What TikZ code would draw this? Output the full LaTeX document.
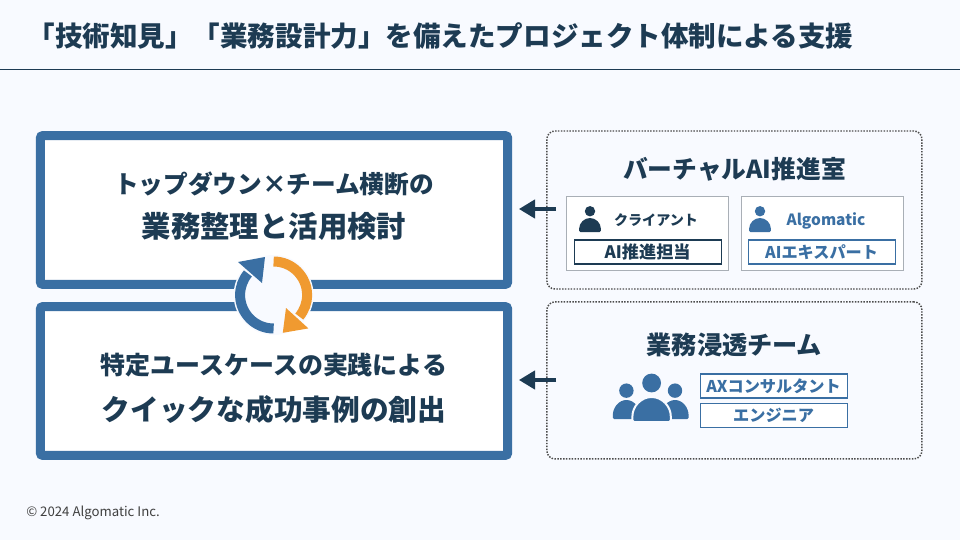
\documentclass[tikz,border=0pt]{standalone}
\usepackage{fontspec}
\setmainfont{Noto Sans CJK JP}
\usetikzlibrary{arrows.meta}
\definecolor{inkdark}{HTML}{1D3B53}
\definecolor{flowblue}{HTML}{3A6FA3}
\definecolor{floworange}{HTML}{F09A30}
\definecolor{paper}{HTML}{F8FAFF}
\definecolor{framegray}{HTML}{A9AFB6}
\tikzset{>={Stealth[inset=0pt, length=.4cm, width=.46cm]}}
\tikzset{
    mainbox/.style={draw=flowblue, line width=.225cm, fill=white, rounded corners=.06cm, minimum width=11.68cm, minimum height=3.72cm},
    dotbox/.style={draw=black!70, densely dotted, line width=1.05pt, fill=paper, rounded corners=.2cm, minimum width=9.375cm},
    memberbox/.style={draw=framegray, line width=.7pt, fill=white, minimum width=4.05cm, minimum height=1.85cm},
    rolebox/.style={draw=#1, text=#1, line width=.8pt, fill=white, font=\fontsize{11.5}{14}\bfseries, minimum width=3.675cm, minimum height=.6cm, inner sep=0pt},
    headtext/.style={text=inkdark, font=\fontsize{#1}{24}\bfseries, inner sep=0pt},
    flowarrow/.style={->, inkdark, line width=.08cm},
    cyclearc/.style={line width=.25cm}
}
% head and shoulders: x, y of the base, half width, body height, head radius, colour
\newcommand{\personicon}[6]{
    \fill[#6](#1, #2+#4+1.3*#5)circle(#5);
    \fill[#6, rounded corners=.03cm](#1-#3, #2)--(#1-#3, #2+.06)arc[start angle=180, end angle=0, x radius=#3, y radius=#4-.06]--(#1+#3, #2)--cycle;
}
\begin{document}
\begin{tikzpicture}
    \useasboundingbox(0, 0)rectangle(24, 13.5);
    \fill[paper](0, 0)rectangle(24, 13.5);

    \node (title)[headtext=19.6, anchor=west] at(.68, 12.6){「技術知見」「業務設計力」を備えたプロジェクト体制による支援};
    \coordinate (ruleL) at(0, 11.775);
    \coordinate (ruleR) at(24, 11.775);
    \draw[inkdark, line width=.7pt](ruleL)--(ruleR);

    % left column
    \node (topbox)[mainbox] at(6.85, 8.25){};
    \node (lowbox)[mainbox] at(6.85, 3.975){};
    \node (topA)[headtext=17.55] at(6.85, 8.9){トップダウン×チーム横断の};
    \node (topB)[headtext=20.9] at(6.85, 7.85){業務整理と活用検討};
    \node (lowA)[headtext=17.75] at(6.85, 4.375){特定ユースケースの実践による};
    \node (lowB)[headtext=20.4] at(6.85, 3.27){クイックな成功事例の創出};

    % cycle icon over the two frames
    \fill[paper](6.84, 6.125)circle(1);
    \draw[flowblue, cyclearc](6.84, 5.2875)arc[start angle=-90, end angle=-220, radius=.8375];
    \fill[flowblue](5.95, 6.95)--(6.625, 7.075)--(6.55, 6.425)--cycle;
    \draw[floworange, cyclearc](6.84, 6.9625)arc[start angle=90, end angle=-40, radius=.8375];
    \fill[floworange](7.15, 5.8)--(7.07, 5.18)--(7.71, 5.29)--cycle;

    % right column, upper
    \node (roomframe)[dotbox, minimum height=3.95cm] at(18.36, 8.25){};
    \node (room)[headtext=17.6] at(18.36, 9.28){バーチャルAI推進室};
    \node (client)[memberbox] at(16.175, 7.675){};
    \node (vendor)[memberbox] at(20.55, 7.675){};
    \node (clientname)[headtext=10] at(16.4, 8){クライアント};
    \node (vendorname)[headtext=11, text=flowblue] at(20.65, 7.98){Algomatic};
    \node (clientrole)[rolebox=inkdark, font=\fontsize{12.2}{14}\bfseries] at(16.19, 7.2){AI推進担当};
    \node (vendorrole)[rolebox=flowblue] at(20.54, 7.2){AIエキスパート};
    \personicon{14.75}{7.7}{.27}{.35}{.13}{inkdark}
    \personicon{19}{7.7}{.27}{.35}{.13}{flowblue}

    % right column, lower
    \node (teamframe)[dotbox, minimum height=3.925cm] at(18.36, 3.99){};
    \node (team)[headtext=17.9] at(18.36, 4.875){業務浸透チーム};
    \node (roleA)[rolebox=flowblue] at(19.34, 3.85){AXコンサルタント};
    \node (roleB)[rolebox=flowblue] at(19.34, 3.11){エンジニア};
    \personicon{15.66}{3.025}{.34}{.475}{.18}{flowblue}
    \personicon{16.875}{3.025}{.34}{.475}{.18}{flowblue}
    \fill[flowblue](16.29, 3.925)circle(.235);
    \filldraw[flowblue, draw=paper, line width=.05cm, rounded corners=.04cm](15.81, 2.95)--(15.81, 3.05)arc[start angle=180, end angle=0, x radius=.48, y radius=.525]--(16.77, 2.95)--cycle;

    % arrows into the left column
    \coordinate (roomout) at(13.9, 8.275);
    \coordinate (topin) at(12.975, 8.275);
    \coordinate (teamout) at(13.9, 4);
    \coordinate (lowin) at(12.975, 4);
    \draw[flowarrow](roomout)--(topin);
    \draw[flowarrow](teamout)--(lowin);

    \node (copy)[anchor=west, inner sep=0pt, text=black!75, font=\fontsize{9.4}{11}\selectfont] at(.65, .68){© 2024 Algomatic Inc.};
\end{tikzpicture}
\end{document}
